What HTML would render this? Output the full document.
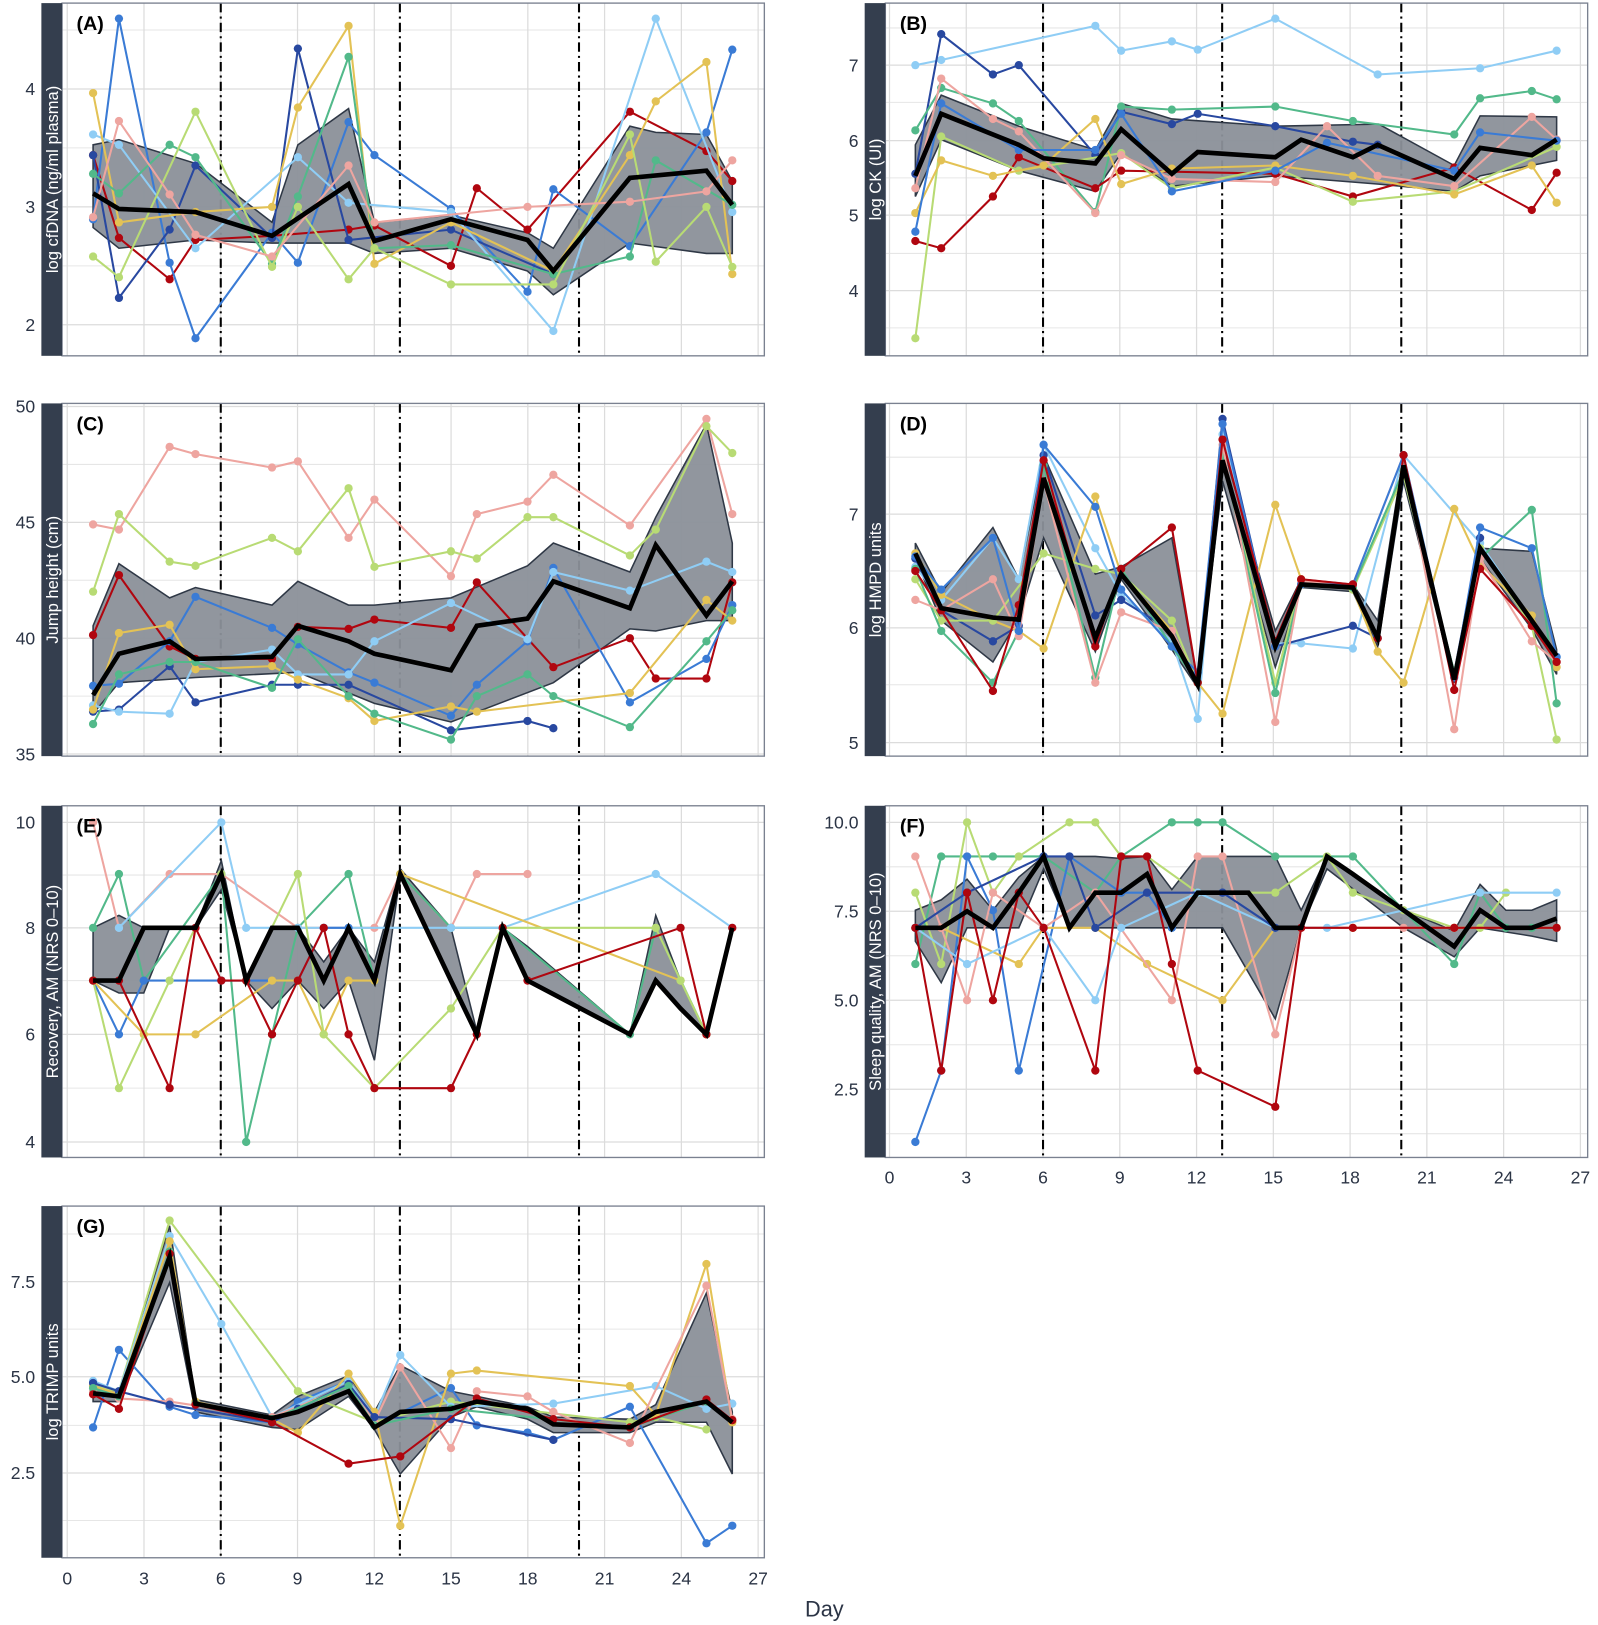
<!DOCTYPE html>
<html><head><meta charset="utf-8"><style>
html,body{margin:0;padding:0;background:#fff;}
svg{display:block;}
text{font-family:"Liberation Sans",sans-serif;}
</style></head><body>
<svg id="s" xmlns="http://www.w3.org/2000/svg" width="1598" height="1625" viewBox="0 0 1545 1571" preserveAspectRatio="none"></svg>
<script>
const S=document.getElementById('s');const NS='http://www.w3.org/2000/svg';
function el(t,a,txt){const e=document.createElementNS(NS,t);for(const k in a)e.setAttribute(k,a[k]);if(txt!==undefined)e.textContent=txt;S.appendChild(e);return e;}
const C={db:'#2848a0',b:'#3a7bd5',lb:'#8fcdf5',g:'#52b98a',l:'#b8db74',y:'#e3c255',p:'#eea5a0',r:'#b0060f'};
function pts(a){return a.map(p=>p.join(',')).join(' ');}
function panel(o){
 const {x0,x1,y0,y1,lab,ylabel,ticks,minor,off}=o;
 const px0=x0+20;
 el('rect',{x:px0,y:y0,width:x1-px0,height:y1-y0,fill:'#fff'});
 minor.forEach(y=>el('line',{x1:px0,x2:x1,y1:y,y2:y,stroke:'#e6e6e6','stroke-width':1}));
 ticks.forEach(t=>{el('line',{x1:px0,x2:x1,y1:t[1],y2:t[1],stroke:'#dcdcdc','stroke-width':1.2});
  el('text',{x:x0-6,y:t[1]+6,'text-anchor':'end','font-size':17,fill:'#2b3445'},t[0]);});
 for(let d=0;d<=27;d+=3){const x=off+d*24.74;el('line',{x1:x,x2:x,y1:y0,y2:y1,stroke:'#dcdcdc','stroke-width':1.2});}
 [6,13,20].forEach(d=>{const x=off+d*24.74;el('line',{x1:x,x2:x,y1:y0,y2:y1,stroke:'#000','stroke-width':2,'stroke-dasharray':'9,4,2,4'});});
 // ribbon
 el('polygon',{points:pts(o.rib),fill:'#8b9099',stroke:'#2f3846','stroke-width':1.5,'fill-opacity':0.95});
 o.series.forEach(s=>{el('polyline',{points:pts(s[1]),fill:'none',stroke:C[s[0]],'stroke-width':2});
  s[1].forEach(p=>el('circle',{cx:p[0],cy:p[1],r:4,fill:C[s[0]]}));});
 el('polyline',{points:pts(o.mean),fill:'none',stroke:'#000','stroke-width':4.5,'stroke-linejoin':'miter'});
 el('rect',{x:px0,y:y0,width:x1-px0,height:y1-y0,fill:'none',stroke:'#7a8190','stroke-width':1.3});
 el('rect',{x:x0,y:y0,width:20,height:y1-y0,fill:'#343e4e'});
 const cy=(y0+y1)/2;
 el('text',{x:x0+16,y:cy,transform:`rotate(-90 ${x0+16} ${cy})`,'text-anchor':'middle','font-size':16,fill:'#fff'},ylabel);
 el('text',{x:px0+14,y:y0+26,'font-size':19,'font-weight':'bold',fill:'#000'},lab);
}
function xt(off,y){for(let d=0;d<=27;d+=3)el('text',{x:off+d*24.74,y:y,'text-anchor':'middle','font-size':17,fill:'#2b3445'},d);}
const R=795;
function sh(a){return a.map(p=>[p[0],p[1]]);}
// A
panel({x0:40,x1:739,y0:3,y1:344,off:65,lab:'(A)',ylabel:'log cfDNA (ng/ml plasma)',
ticks:[[4,86],[3,200],[2,314]],minor:[29,143,257],
rib:[[90,140],[115,135],[189,158],[263,215],[288,140],[337,105],[362,215],[436,208],[510,225],[535,240],[609,122],[634,128],[683,130],[708,175],[708,245],[683,245],[609,235],[535,285],[510,262],[436,240],[362,245],[337,235],[263,235],[189,232],[115,240],[90,220]],
mean:[[90,187],[115,202],[189,205],[263,228],[337,178],[362,233],[436,212],[510,232],[535,262],[609,172],[683,165],[708,198]],
series:[
['r',[[90,150],[115,230],[164,270],[189,232],[263,228],[337,222],[362,218],[436,257],[461,182],[510,222],[609,108],[683,146],[708,175]]],
['b',[[90,212],[115,18],[164,254],[189,327],[263,225],[288,254],[337,118],[362,150],[436,202],[510,282],[535,183],[609,238],[683,128],[708,48]]],
['db',[[90,150],[115,288],[164,222],[189,160],[263,230],[288,47],[337,232],[436,222],[535,265]]],
['lb',[[90,130],[115,140],[189,240],[288,152],[337,196],[436,205],[535,320],[634,18],[708,205]]],
['y',[[90,90],[115,215],[189,205],[263,200],[288,104],[337,25],[362,255],[436,215],[535,262],[609,150],[634,98],[683,60],[708,265]]],
['g',[[90,168],[115,187],[164,140],[189,152],[263,255],[288,190],[337,55],[362,240],[436,237],[535,265],[609,248],[634,155],[708,198]]],
['l',[[90,248],[115,268],[189,108],[263,258],[288,200],[337,270],[362,240],[436,275],[535,275],[609,130],[634,253],[683,200],[708,258]]],
['p',[[90,210],[115,117],[164,188],[189,227],[263,248],[337,160],[362,215],[510,200],[609,195],[683,185],[708,155]]]]});
// B
panel({x0:836,x1:1535,y0:3,y1:344,off:860,lab:'(B)',ylabel:'log CK (UI)',
ticks:[[7,63],[6,136],[5,208],[4,281]],minor:[27,99,172,245,317],
rib:[[885,140],[910,92],[985,122],[1059,145],[1084,100],[1133,115],[1233,122],[1333,120],[1406,160],[1431,112],[1505,113],[1505,155],[1431,170],[1406,185],[1333,178],[1233,170],[1133,180],[1084,148],[1059,185],[985,165],[910,135],[885,190]],
mean:[[885,170],[910,110],[985,140],[1009,153],[1059,158],[1084,125],[1133,168],[1158,147],[1233,152],[1258,135],[1308,152],[1332,140],[1406,173],[1431,143],[1481,150],[1505,135]],
series:[
['lb',[[885,63],[910,58],[1059,25],[1084,49],[1133,40],[1158,48],[1233,18],[1332,72],[1431,66],[1505,49]]],
['db',[[885,168],[910,33],[960,72],[985,63],[1059,150],[1084,108],[1133,120],[1158,110],[1233,122],[1308,137],[1332,140]]],
['g',[[885,126],[910,85],[960,100],[985,117],[1059,205],[1084,103],[1133,106],[1233,103],[1308,117],[1406,130],[1431,95],[1481,88],[1505,96]]],
['r',[[885,233],[910,240],[960,190],[985,152],[1059,182],[1084,165],[1233,168],[1308,190],[1406,162],[1481,203],[1505,167]]],
['l',[[885,327],[910,132],[985,165],[1084,148],[1133,182],[1233,162],[1308,195],[1406,185],[1505,142]]],
['y',[[885,206],[910,155],[960,170],[1009,160],[1059,115],[1084,178],[1133,163],[1233,160],[1308,170],[1406,188],[1481,160],[1505,196]]],
['p',[[885,182],[910,76],[960,115],[985,127],[1059,206],[1084,150],[1133,173],[1233,176],[1283,122],[1332,170],[1406,180],[1481,113],[1505,135]]],
['b',[[885,224],[910,100],[985,145],[1059,145],[1084,110],[1133,185],[1233,165],[1283,138],[1406,165],[1431,128],[1505,136]]]]});
// C
panel({x0:40,x1:739,y0:390,y1:731,off:65,lab:'(C)',ylabel:'Jump height (cm)',
ticks:[[50,393],[45,505],[40,617],[35,729]],minor:[449,561,673],
rib:[[90,605],[115,545],[164,578],[189,568],[263,585],[288,562],[337,585],[362,585],[436,578],[510,547],[535,525],[609,553],[634,500],[683,410],[708,525],[708,600],[683,600],[634,610],[609,608],[535,660],[436,698],[362,680],[288,650],[189,655],[115,660],[90,690]],
mean:[[90,672],[115,632],[164,620],[189,637],[263,635],[288,605],[337,620],[362,632],[436,648],[461,605],[510,598],[535,562],[609,588],[634,527],[683,595],[708,562]],
series:[
['p',[[90,507],[115,512],[164,432],[189,439],[263,452],[288,446],[337,520],[362,483],[436,557],[461,497],[510,485],[535,459],[609,508],[683,405],[708,497]]],
['l',[[90,572],[115,497],[164,543],[189,547],[263,520],[288,533],[337,472],[362,548],[436,533],[461,540],[510,500],[535,500],[609,537],[634,512],[683,412],[708,438]]],
['r',[[90,614],[115,556],[164,625],[189,637],[263,637],[288,606],[337,608],[362,599],[436,607],[461,563],[535,645],[609,617],[634,656],[683,656],[708,563]]],
['db',[[90,688],[115,686],[164,644],[189,679],[263,662],[288,662],[337,662],[436,706],[510,697],[535,704]]],
['b',[[90,663],[115,661],[164,620],[189,577],[263,607],[288,623],[337,650],[362,660],[436,692],[461,662],[510,620],[535,549],[609,679],[683,637],[708,585]]],
['lb',[[90,682],[115,688],[164,690],[189,640],[263,628],[288,652],[337,652],[362,620],[436,583],[510,618],[535,553],[609,571],[683,543],[708,553]]],
['y',[[90,686],[115,612],[164,604],[189,647],[263,644],[288,657],[337,675],[362,697],[436,683],[461,688],[609,670],[683,580],[708,600]]],
['g',[[90,700],[115,652],[164,640],[189,640],[263,665],[288,618],[337,673],[362,690],[436,715],[461,673],[510,652],[535,673],[609,703],[683,620],[708,590]]]]});
// D
panel({x0:836,x1:1535,y0:390,y1:731,off:860,lab:'(D)',ylabel:'log HMPD units',
ticks:[[7,497],[6,607],[5,718]],minor:[442,552,662],
rib:[[885,525],[910,573],[960,510],[985,560],[1009,440],[1059,555],[1084,548],[1133,520],[1158,660],[1182,430],[1233,610],[1258,560],[1308,565],[1332,600],[1357,440],[1406,655],[1431,530],[1481,533],[1505,628],[1505,652],[1481,608],[1431,540],[1406,660],[1357,465],[1332,625],[1308,572],[1258,568],[1233,645],[1182,465],[1158,665],[1133,628],[1084,560],[1059,630],[1009,520],[985,598],[960,640],[910,600],[885,540]],
mean:[[885,535],[910,588],[960,597],[985,599],[1009,462],[1059,617],[1084,555],[1133,615],[1158,662],[1182,445],[1233,625],[1258,565],[1308,568],[1332,617],[1357,450],[1406,657],[1431,530],[1481,600],[1505,634]],
series:[
['lb',[[885,548],[910,580],[960,520],[985,560],[1009,430],[1059,530],[1084,575],[1133,620],[1158,695],[1182,420],[1233,622],[1258,622],[1308,627],[1357,440],[1431,525],[1505,635]]],
['db',[[885,540],[910,590],[960,620],[985,605],[1009,440],[1059,595],[1084,580],[1133,610],[1158,660],[1182,405],[1233,625],[1308,605],[1332,617],[1357,460],[1406,650],[1431,520]]],
['y',[[885,535],[910,575],[960,600],[985,610],[1009,627],[1059,480],[1084,555],[1133,610],[1158,660],[1182,690],[1233,488],[1258,560],[1308,570],[1332,630],[1357,660],[1406,492],[1431,545],[1481,595],[1505,645]]],
['l',[[885,560],[910,600],[960,600],[1009,535],[1059,550],[1084,555],[1133,600],[1158,660],[1182,440],[1233,660],[1258,560],[1308,570],[1357,460],[1406,650],[1431,530],[1481,605],[1505,715]]],
['g',[[885,550],[910,610],[960,660],[985,610],[1009,450],[1059,655],[1084,550],[1133,625],[1158,660],[1182,440],[1233,670],[1258,565],[1308,568],[1357,455],[1406,650],[1431,540],[1481,493],[1505,680]]],
['p',[[885,580],[910,590],[960,560],[985,615],[1009,465],[1059,660],[1084,592],[1133,610],[1158,660],[1182,430],[1233,698],[1258,562],[1308,565],[1357,440],[1406,705],[1431,540],[1481,620],[1505,640]]],
['b',[[885,538],[910,570],[960,520],[985,610],[1009,430],[1059,490],[1084,570],[1133,625],[1158,650],[1182,410],[1233,625],[1258,565],[1308,565],[1357,440],[1406,655],[1431,510],[1481,530],[1505,635]]],
['r',[[885,552],[910,590],[960,668],[985,585],[1009,445],[1059,625],[1084,550],[1133,510],[1158,660],[1182,425],[1233,620],[1258,560],[1308,565],[1332,617],[1357,440],[1406,667],[1431,550],[1481,605],[1505,640]]]]});
// E
panel({x0:40,x1:739,y0:779,y1:1119,off:65,lab:'(E)',ylabel:'Recovery, AM (NRS 0–10)',
ticks:[[10,795],[8,897],[6,1000],[4,1104]],minor:[846,948,1052],
rib:[[90,897],[115,885],[139,897],[189,897],[214,832],[238,948],[263,897],[288,897],[313,930],[337,897],[362,930],[387,840],[436,897],[461,997],[486,897],[510,915],[609,1000],[634,885],[658,948],[683,1000],[708,897],[708,897],[683,1000],[658,975],[634,948],[609,1000],[510,948],[486,897],[461,1000],[436,948],[387,845],[362,1025],[337,948],[313,975],[288,948],[263,975],[238,948],[214,860],[189,897],[164,897],[139,960],[115,960],[90,948]],
mean:[[90,948],[115,948],[139,897],[189,897],[214,845],[238,948],[263,897],[288,897],[313,948],[337,897],[362,948],[387,845],[436,948],[461,1000],[486,897],[510,948],[609,1000],[634,948],[658,975],[683,1000],[708,897]],
series:[
['p',[[90,795],[115,897],[164,845],[214,845],[288,897],[362,897],[387,845],[436,897],[461,845],[510,845]]],
['g',[[90,897],[115,845],[139,948],[214,845],[238,1104],[263,1000],[288,897],[337,845],[362,948],[387,845],[436,897],[486,897],[609,1000],[634,897],[683,1000]]],
['lb',[[115,897],[214,795],[238,897],[288,897],[313,897],[436,897],[486,897],[634,845],[708,897]]],
['b',[[90,948],[115,1000],[139,948],[214,948],[288,948],[313,897],[337,897]]],
['y',[[90,948],[139,1000],[189,1000],[263,948],[288,948],[313,1000],[337,948],[362,948],[387,845],[658,948]]],
['l',[[90,948],[115,1052],[164,948],[214,845],[238,948],[288,845],[313,1000],[362,1052],[436,975],[486,897],[634,897],[658,948],[683,1000]]],
['r',[[90,948],[115,948],[164,1052],[189,897],[214,948],[238,948],[263,1000],[288,948],[313,897],[337,1000],[362,1052],[436,1052],[461,1000],[486,897],[510,948],[658,897],[683,1000],[708,897]]]]});
// F
panel({x0:836,x1:1535,y0:779,y1:1119,off:860,lab:'(F)',ylabel:'Sleep quality, AM (NRS 0–10)',
ticks:[['10.0',795],['7.5',881],['5.0',967],['2.5',1053]],minor:[838,924,1010,1096],
rib:[[885,880],[910,870],[935,850],[960,880],[985,848],[1009,828],[1034,828],[1059,828],[1084,830],[1109,828],[1133,860],[1158,828],[1182,828],[1233,828],[1258,880],[1283,828],[1357,880],[1406,900],[1431,855],[1456,880],[1481,880],[1505,870],[1505,910],[1481,905],[1431,897],[1406,925],[1357,897],[1283,840],[1258,897],[1233,985],[1182,897],[1133,897],[1109,897],[1084,897],[1059,897],[1034,897],[1009,840],[985,897],[960,897],[935,897],[910,950],[885,910]],
mean:[[885,897],[910,897],[935,881],[960,897],[985,863],[1009,828],[1034,897],[1059,863],[1084,863],[1109,845],[1133,897],[1158,863],[1182,863],[1207,863],[1233,897],[1258,897],[1283,828],[1308,845],[1357,880],[1406,915],[1431,880],[1456,897],[1481,897],[1505,888]],
series:[
['g',[[885,932],[910,828],[960,828],[1009,828],[1059,863],[1084,828],[1133,795],[1158,795],[1182,795],[1233,828],[1308,828],[1406,932],[1431,863],[1456,897],[1481,897]]],
['b',[[885,1104],[910,1035],[935,828],[960,880],[985,1035],[1034,828],[1084,863],[1109,863],[1133,897],[1158,863],[1182,863],[1233,897]]],
['l',[[885,863],[910,932],[935,795],[960,863],[985,828],[1034,795],[1059,795],[1084,828],[1109,828],[1158,863],[1233,863],[1283,828],[1308,863],[1357,880],[1406,897],[1431,897],[1456,863]]],
['y',[[885,897],[910,897],[985,932],[1009,897],[1059,897],[1109,932],[1182,967],[1233,897],[1308,897],[1406,897],[1505,897]]],
['p',[[885,828],[910,897],[935,967],[960,863],[1009,897],[1059,863],[1133,967],[1158,828],[1182,828],[1233,1000],[1258,897],[1357,897],[1406,897]]],
['lb',[[885,897],[935,932],[1009,897],[1059,967],[1084,897],[1158,863],[1233,897],[1283,897],[1431,863],[1505,863]]],
['db',[[885,897],[935,863],[1009,828],[1034,828],[1059,897],[1109,863],[1182,863],[1233,897]]],
['r',[[885,897],[910,1035],[935,863],[960,967],[985,863],[1009,897],[1059,1035],[1084,828],[1109,828],[1133,932],[1158,1035],[1233,1070],[1258,897],[1308,897],[1406,897],[1505,897]]]]});
xt(860,1144);
// G
panel({x0:40,x1:739,y0:1166,y1:1506,off:65,lab:'(G)',ylabel:'log TRIMP units',
ticks:[['7.5',1239],['5.0',1331],['2.5',1424]],minor:[1193,1285,1378,1470],
rib:[[90,1337],[115,1345],[164,1185],[189,1353],[263,1368],[288,1350],[337,1330],[362,1365],[387,1320],[436,1345],[461,1350],[510,1360],[535,1370],[609,1372],[634,1358],[683,1250],[708,1365],[708,1425],[683,1375],[634,1375],[609,1385],[535,1385],[510,1372],[461,1360],[436,1370],[387,1425],[362,1382],[337,1350],[288,1382],[263,1380],[189,1365],[164,1240],[115,1355],[90,1355]],
mean:[[90,1347],[115,1350],[164,1215],[189,1357],[263,1371],[288,1365],[337,1345],[362,1380],[387,1365],[436,1362],[461,1355],[510,1362],[535,1377],[609,1380],[634,1365],[683,1355],[708,1375]],
series:[
['b',[[90,1380],[115,1305],[164,1360],[189,1368],[263,1375],[288,1355],[337,1335],[362,1378],[436,1342],[461,1378],[510,1385],[535,1392],[609,1360],[683,1492],[708,1475]]],
['l',[[90,1340],[115,1345],[164,1180],[288,1345],[362,1375],[436,1355],[609,1375],[634,1370],[683,1382]]],
['lb',[[90,1335],[115,1345],[164,1195],[214,1280],[263,1370],[337,1335],[362,1370],[387,1310],[436,1360],[535,1357],[634,1340],[683,1362],[708,1357]]],
['y',[[90,1340],[115,1348],[164,1200],[189,1355],[263,1372],[288,1385],[337,1328],[362,1365],[387,1475],[436,1328],[461,1325],[609,1340],[634,1368],[683,1222],[708,1375]]],
['p',[[90,1345],[115,1352],[164,1355],[263,1370],[337,1340],[362,1375],[387,1322],[436,1400],[461,1345],[510,1350],[535,1365],[609,1395],[683,1243],[708,1372]]],
['db',[[90,1337],[115,1345],[164,1358],[263,1375],[288,1362],[337,1338],[362,1370],[436,1372],[535,1392]]],
['g',[[90,1342],[115,1350],[164,1210],[189,1357],[263,1372],[337,1340],[362,1378],[436,1362],[609,1380],[683,1355]]],
['r',[[90,1348],[115,1362],[164,1212],[189,1358],[263,1375],[337,1415],[387,1408],[461,1352],[535,1372],[609,1380],[683,1353],[708,1373]]]]});
xt(65,1532);
el('text',{x:797,y:1563,'text-anchor':'middle','font-size':21,fill:'#2b3445'},'Day');
</script>
</body></html>
